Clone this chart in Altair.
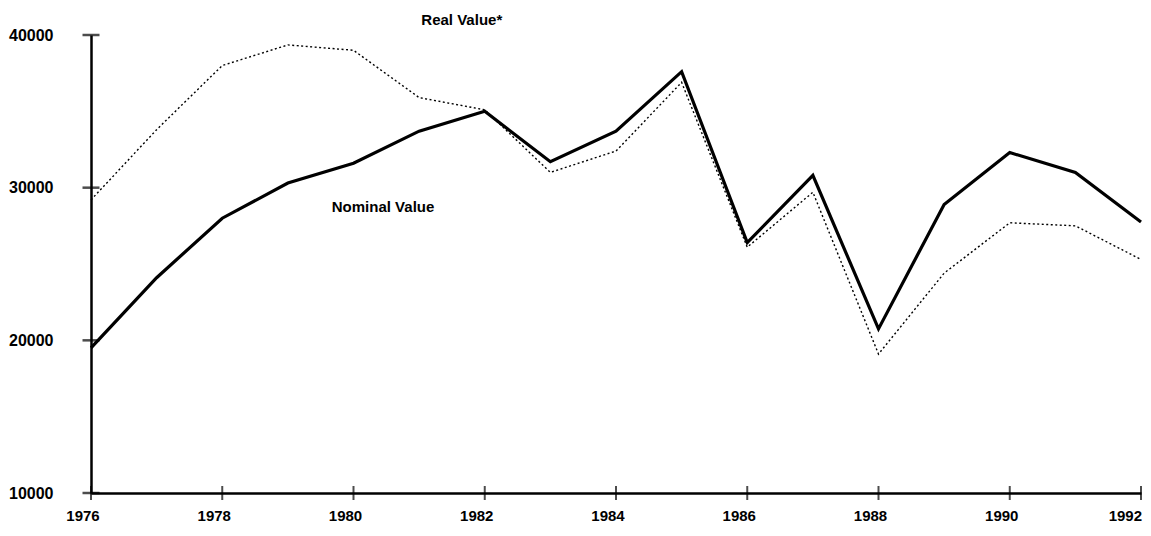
import altair as alt
import pandas as pd

years = list(range(1976, 1993))
nominal = [19500, 24100, 28000, 30300, 31600, 33700, 35000, 31700, 33700,
           37600, 26400, 30800, 20750, 28900, 32300, 31000, 27750]
real = [29200, 33800, 38000, 39350, 39000, 35900, 35100, 31000, 32400,
        36900, 26100, 29700, 19100, 24400, 27700, 27500, 25300]

x_ticks = [1976, 1978, 1980, 1982, 1984, 1986, 1988, 1990, 1992]
y_ticks = [10000, 20000, 30000, 40000]

label_text = ["Real Value*", "Nominal Value"]
label_year = [1981.65, 1980.45]
label_value = [40950, 28750]

FONT = "Liberation Sans"

df = pd.DataFrame({
    "year": years * 2,
    "value": nominal + real,
    "series": ["Nominal Value"] * len(years) + ["Real Value*"] * len(years),
})
df_nom = df[df.series == "Nominal Value"]
df_real = df[df.series == "Real Value*"]

xscale = alt.Scale(domain=[1976, 1992], nice=False, zero=False)
yscale = alt.Scale(domain=[10000, 40000], nice=False, zero=False)

xaxis = alt.Axis(values=x_ticks, title=None, grid=False, ticks=False, labels=False,
                 domainColor="black", domainWidth=2.5)
yaxis = alt.Axis(values=y_ticks, format="d", title=None, grid=False, ticks=False,
                 domainColor="black", domainWidth=2.5, labelPadding=38,
                 labelFlush=False, labelOverlap=False,
                 labelFont=FONT, labelFontWeight="bold", labelFontSize=16,
                 labelColor="black")

real_line = alt.Chart(df_real).mark_line(
    color="black", strokeWidth=1.4, strokeDash=[2, 2.5]
).encode(
    x=alt.X("year:Q", scale=xscale, axis=xaxis),
    y=alt.Y("value:Q", scale=yscale, axis=yaxis),
)

nom_line = alt.Chart(df_nom).mark_line(
    color="black", strokeWidth=3.2, strokeJoin="miter"
).encode(
    x=alt.X("year:Q", scale=xscale),
    y=alt.Y("value:Q", scale=yscale),
)

ytick_df = pd.DataFrame({"year": [1976] * len(y_ticks), "value": y_ticks})
xtick_df = pd.DataFrame({"year": x_ticks, "value": [10000] * len(x_ticks),
                         "label": [str(v) for v in x_ticks]})

ytick_marks = alt.Chart(ytick_df).mark_tick(
    orient="horizontal", color="black", thickness=2.5, size=17
).encode(
    x=alt.X("year:Q", scale=xscale),
    y=alt.Y("value:Q", scale=yscale),
)
xtick_marks = alt.Chart(xtick_df).mark_tick(
    orient="vertical", color="black", thickness=2, size=14
).encode(
    x=alt.X("year:Q", scale=xscale),
    y=alt.Y("value:Q", scale=yscale),
)
xtick_labels = alt.Chart(xtick_df).transform_filter(
    "datum.year < 1992"
).mark_text(
    font=FONT, fontWeight="bold", fontSize=15, color="black",
    align="center", baseline="middle", dx=-8, dy=23
).encode(
    x=alt.X("year:Q", scale=xscale),
    y=alt.Y("value:Q", scale=yscale),
    text="label:N",
)
xtick_last = alt.Chart(xtick_df).transform_filter(
    "datum.year >= 1992"
).mark_text(
    font=FONT, fontWeight="bold", fontSize=15, color="black",
    align="right", baseline="middle", dx=1, dy=23
).encode(
    x=alt.X("year:Q", scale=xscale),
    y=alt.Y("value:Q", scale=yscale),
    text="label:N",
)

lab_df = pd.DataFrame({"text": label_text, "year": label_year, "value": label_value})
labels = alt.Chart(lab_df).mark_text(
    font=FONT, fontWeight="bold", fontSize=15, color="black",
    align="center", baseline="middle"
).encode(
    x=alt.X("year:Q", scale=xscale),
    y=alt.Y("value:Q", scale=yscale),
    text="text:N",
)

chart = alt.layer(real_line, nom_line, ytick_marks, xtick_marks, xtick_labels,
                  xtick_last, labels).properties(
    width=1050, height=458,
    autosize=alt.AutoSizeParams(type="none"),
    padding={"left": 83, "top": 27, "right": 2, "bottom": 35},
).configure(background="white").configure_view(stroke=None)

chart.save("out.html", embed_options={"renderer": "svg", "actions": False})
